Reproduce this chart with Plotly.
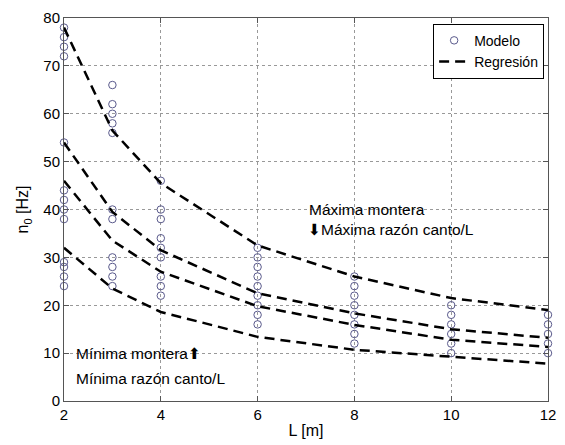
import plotly.graph_objects as go

# Model points (L [m], n0 [Hz])
model_L = [2]*13 + [3]*11 + [4]*9 + [6]*9 + [8]*8 + [10]*6 + [12]*5
model_n0 = [78, 76, 74, 72, 54, 44, 42, 40, 38, 29, 28, 26, 24,
            66, 62, 60, 58, 56, 40, 38, 30, 28, 26, 24,
            46, 40, 38, 34, 32, 30, 26, 24, 22,
            32, 30, 28, 26, 24, 22, 20, 18, 16,
            26, 24, 22, 20, 18, 16, 14, 12,
            20, 18, 16, 14, 12, 10,
            18, 16, 14, 12, 10]

# Regression curves
reg_L = [2, 3, 4, 6, 8, 10, 12]
reg_1 = [78, 56.5, 45.5, 32.5, 26, 21.5, 19]
reg_2 = [54, 39.5, 31.5, 22.5, 18.3, 15, 13.2]
reg_3 = [46, 33.5, 27, 19.8, 15.9, 12.8, 11.3]
reg_4 = [32, 23.5, 18.6, 13.4, 10.7, 9.3, 7.8]

x_ticks = [2, 4, 6, 8, 10, 12]
y_ticks = [0, 10, 20, 30, 40, 50, 60, 70, 80]

FONT = "Liberation Sans, Arial, sans-serif"
ARROW = '<span style="font-family:DejaVu Sans">%s</span>'

fig = go.Figure()
fig.add_trace(go.Scatter(
    x=model_L, y=model_n0, mode="markers", name="Modelo", cliponaxis=False,
    marker=dict(symbol="circle-open", size=7.5, color="#5a5a8c", line=dict(width=1))))

for i, reg in enumerate([reg_1, reg_2, reg_3, reg_4]):
    fig.add_trace(go.Scatter(
        x=reg_L, y=reg, mode="lines", name="Regresión",
        legendgroup="reg", showlegend=(i == 0),
        line=dict(color="black", width=2.5, dash="10px,6px")))

axis_common = dict(
    showline=True, linecolor="#555", linewidth=1, mirror="ticks",
    ticks="inside", ticklen=5, tickcolor="#555",
    showgrid=True, gridcolor="#999", griddash="dot", gridwidth=1,
    zeroline=False, tickfont=dict(size=15, color="black", family=FONT))

fig.update_xaxes(range=[2, 12], tickvals=x_ticks,
                 title=dict(text="L [m]", font=dict(size=16, family=FONT, color="black"), standoff=2),
                 **axis_common)
fig.update_yaxes(range=[0, 80], tickvals=y_ticks,
                 title=dict(text="n<sub>0</sub> [Hz]", font=dict(size=16, family=FONT, color="black"), standoff=10),
                 **axis_common)

ann_font = dict(size=15.5, family=FONT, color="black")
fig.add_annotation(x=7.02, y=40, xref="x", yref="y", text="Máxima montera",
                   showarrow=False, xanchor="left", yanchor="middle", font=ann_font)
fig.add_annotation(x=7.0, y=35.7, xref="x", yref="y", text=(ARROW % "⬇") + "Máxima razón canto/L",
                   showarrow=False, xanchor="left", yanchor="middle", font=ann_font)
fig.add_annotation(x=2.2, y=9.9, xref="x", yref="y", text="Mínima montera" + (ARROW % "⬆"),
                   showarrow=False, xanchor="left", yanchor="middle", font=ann_font)
fig.add_annotation(x=2.2, y=4.7, xref="x", yref="y", text="Mínima razón canto/L",
                   showarrow=False, xanchor="left", yanchor="middle", font=ann_font)

fig.update_layout(
    width=565, height=445,
    margin=dict(l=64, r=9, t=14, b=43),
    paper_bgcolor="white", plot_bgcolor="white",
    font=dict(family=FONT, size=15, color="black"),
    legend=dict(x=0.992, y=0.985, xanchor="right", yanchor="top",
                bgcolor="white", bordercolor="black", borderwidth=1,
                font=dict(size=14, family=FONT, color="black"),
                tracegroupgap=0, itemwidth=30),
)

fig.write_html("out.html")
